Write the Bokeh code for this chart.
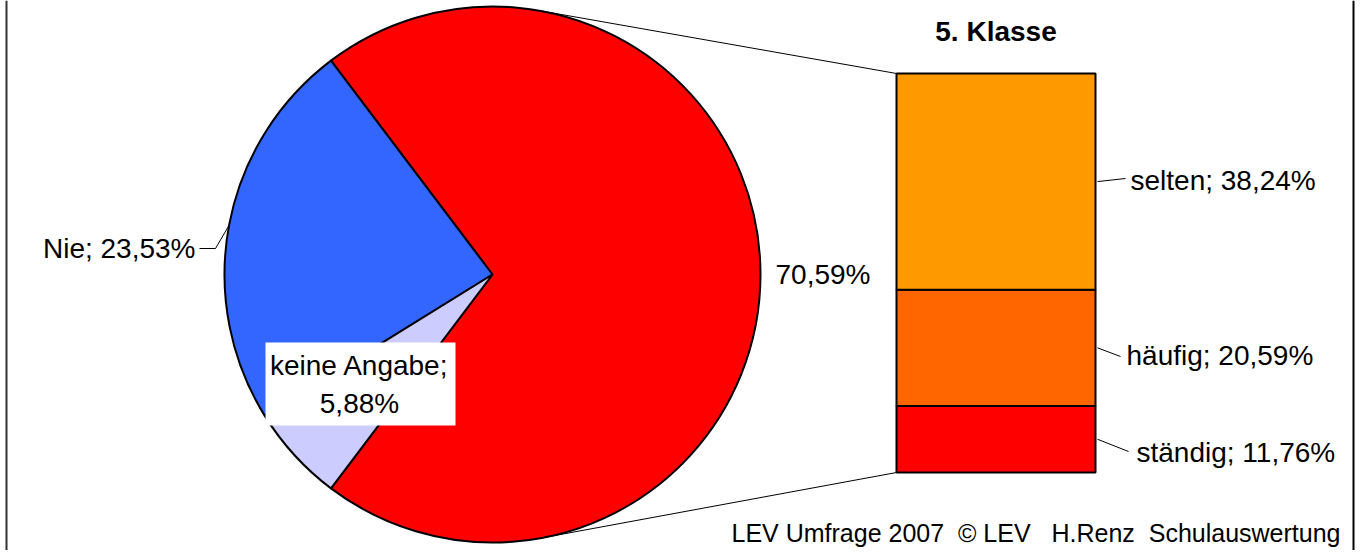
import math
from bokeh.plotting import figure
from bokeh.models import Range1d, ColumnDataSource
from bokeh.embed import file_html
from bokeh.resources import INLINE
from bokeh.core.properties import value

# ---------------- data ----------------
pie_categories = ["Rest", "Nie", "keine Angabe"]
pie_values = [70.59, 23.53, 5.88]
pie_colors = ["#FF0000", "#3366FF", "#CCCCFF"]
pie_texts = ["70,59%", "Nie; 23,53%", "keine Angabe;\n5,88%"]

bar_categories = ["ständig", "häufig", "selten"]
bar_values = [11.76, 20.59, 38.24]
bar_colors = ["#FF0000", "#FF6600", "#FF9900"]
bar_texts = ["ständig; 11,76%", "häufig; 20,59%", "selten; 38,24%"]

title_text = "5. Klasse"
footer_text = "LEV Umfrage 2007\u00a0 © LEV \u00a0 H.Renz\u00a0 Schulauswertung"

FONT = "Liberation Sans"

# ---------------- figure ----------------
W, H = 1355, 550
p = figure(width=W, height=H, x_range=Range1d(0, W), y_range=Range1d(0, H),
           output_backend="svg", toolbar_location=None, min_border=0)
p.axis.visible = False
p.grid.visible = False
p.outline_line_color = None
p.background_fill_color = "white"
p.border_fill_color = "white"


def Y(ref):
    return H - ref


# frame lines (left/right)
p.segment(x0=[6, 1353], y0=[0, 0], x1=[6, 1353], y1=[H, H], line_color=["#333333", "black"], line_width=2)

# ---------------- pie ----------------
cx, cy, r = 492, Y(274), 268
total = sum(pie_values)
a = -math.pi * pie_values[0] / total
starts, ends = [], []
for v in pie_values:
    e = a + 2 * math.pi * v / total
    starts.append(a)
    ends.append(e)
    a = e
pie_src = ColumnDataSource(dict(x=[cx] * 3, y=[cy] * 3, s=starts, e=ends, c=pie_colors))
p.wedge(x="x", y="y", radius=r, start_angle="s", end_angle="e", fill_color="c",
        line_color="black", line_width=2, source=pie_src)

# ---------------- bar ----------------
bx0, bx1 = 896, 1095
b_top, b_bot = Y(73), Y(472)
scale = (b_top - b_bot) / sum(bar_values)
bottoms, tops = [], []
yb = b_bot
for v in bar_values:
    bottoms.append(yb)
    yb = yb + v * scale
    tops.append(yb)
p.quad(left=bx0, right=bx1, bottom=bottoms, top=tops, fill_color=bar_colors,
       line_color="black", line_width=2)


# connector lines: tangents from bar corners to the circle
def tangent(px, py, upper):
    dx, dy = px - cx, py - cy
    d = math.hypot(dx, dy)
    base = math.atan2(dy, dx)
    off = math.acos(r / d)
    ang = base + off if upper else base - off
    return cx + r * math.cos(ang), cy + r * math.sin(ang)


tx1, ty1 = tangent(bx0, b_top, True)
tx2, ty2 = tangent(bx0, b_bot, False)
p.segment(x0=[tx1, tx2], y0=[ty1, ty2], x1=[bx0, bx0], y1=[b_top, b_bot],
          line_color="black", line_width=1)

# ---------------- labels ----------------
FS = "28px"
# bar labels (ständig, häufig, selten)
bar_label_pos = [(1136, Y(452)), (1126, Y(355)), (1130, Y(180))]
bar_leader_end = [(1128, Y(451)), (1120, Y(356)), (1125, Y(178))]
for i, t in enumerate(bar_texts):
    mid = (bottoms[i] + tops[i]) / 2
    lx, ly = bar_leader_end[i]
    p.line(x=[bx1 + 2, lx], y=[mid, ly], line_color="black", line_width=1)
    x, y = bar_label_pos[i]
    p.text(x=[x], y=[y], text=[t], text_font=value(FONT), text_font_size=FS,
           text_align="left", text_baseline="middle", text_color="black")

# Nie label with leader
mid_blue = (starts[1] + ends[1]) / 2
ex, ey = cx + r * math.cos(mid_blue), cy + r * math.sin(mid_blue)
p.line(x=[ex, 215, 199], y=[ey, Y(248), Y(248)], line_color="black", line_width=1)
p.text(x=[195], y=[Y(248)], text=[pie_texts[1]], text_font=value(FONT), text_font_size=FS,
       text_align="right", text_baseline="middle", text_color="black")

# keine Angabe label in white box
p.quad(left=[265], right=[455], top=[Y(342)], bottom=[Y(425)], fill_color="white", line_color=None)
p.text(x=[359], y=[Y(384)], text=[pie_texts[2]], text_font=value(FONT), text_font_size=FS,
       text_align="center", text_baseline="middle", text_color="black", text_line_height=1.25)

# 70,59 % label
p.text(x=[775], y=[Y(274)], text=[pie_texts[0]], text_font=value(FONT), text_font_size=FS,
       text_align="left", text_baseline="middle", text_color="black")

# title
p.text(x=[(bx0 + bx1) / 2], y=[Y(31)], text=[title_text], text_font=value(FONT), text_font_size="28px",
       text_font_style="bold", text_align="center", text_baseline="middle", text_color="black")

# footer
p.text(x=[1340], y=[Y(532)], text=[footer_text], text_font=value(FONT), text_font_size="25px",
       text_align="right", text_baseline="middle", text_color="black")

open("out.html", "w").write(file_html(p, INLINE))
